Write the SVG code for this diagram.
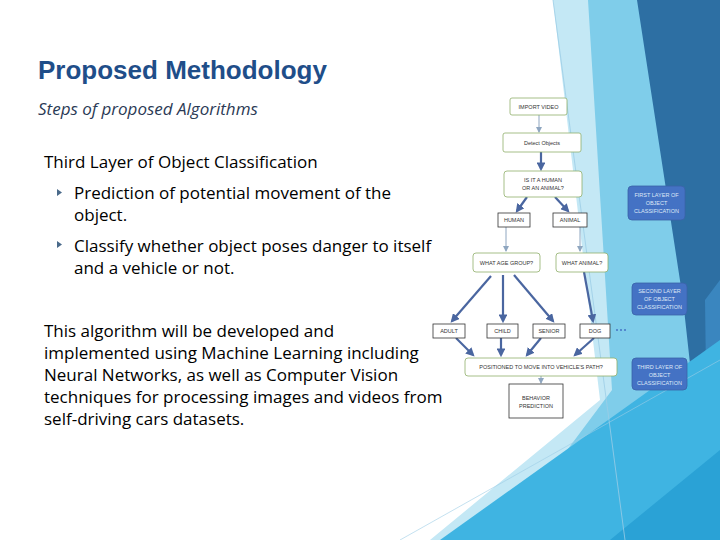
<svg xmlns="http://www.w3.org/2000/svg" width="720" height="540" viewBox="0 0 720 540">
<defs>
<style>
.t{font-family:"Open Sans","Liberation Sans",Arial,sans-serif;fill:#000}
.fc{font-family:"Liberation Sans",Arial,sans-serif;font-size:5.5px;fill:#333;text-anchor:middle}
.sd{font-family:"Liberation Sans",Arial,sans-serif;font-size:5.5px;fill:#dfe8f7;text-anchor:middle}
.g{fill:#fff;stroke:#8fae6a;stroke-width:0.8}
.k{fill:#fff;stroke:#333;stroke-width:0.8}
.s{fill:#4472c4;stroke:#3a62a8;stroke-width:0.8}
.thin{stroke:#8fa6c0;stroke-width:1;fill:none;marker-end:url(#ah)}
.thick{stroke:#4a66a0;stroke-width:2.2;fill:none;marker-end:url(#ah2)}
</style>
<marker id="ah" markerWidth="6" markerHeight="6" refX="5" refY="3" orient="auto"><path d="M0,0L6,3L0,6z" fill="#8fa6c0"/></marker>
<marker id="ah2" markerWidth="4" markerHeight="4" refX="3" refY="2" orient="auto"><path d="M0,0L4,2L0,4z" fill="#4a66a0"/></marker>
</defs>
<rect width="720" height="540" fill="#fff"/>
<g id="background">
<polygon points="553,0 720,0 720,540 430,540 600,400" fill="#c4e8f5"/>
<polygon points="588,0 720,0 720,540 500,540 612,390" fill="#7fcdea"/>
<polygon points="637,0 720,0 720,540 705,500 683,300" fill="#2d6fa3"/>
<polygon points="705,300 720,280 720,540 708,520" fill="#3a86bf"/>
<polygon points="440,540 720,340 720,540" fill="#3fb4e2"/>
<polygon points="610,540 720,450 720,540" fill="#2aa2d6"/>
<line x1="553" y1="0" x2="625" y2="540" stroke="#9ccde6" stroke-width="0.8"/>
<line x1="400" y1="540" x2="720" y2="360" stroke="#9ccde6" stroke-width="0.6"/>
</g>
<g id="title">
<text class="t" x="38" y="79" font-size="26" font-weight="bold" style="fill:#1f4e89;font-family:'Liberation Sans',Arial,sans-serif">Proposed Methodology</text>
<text class="t" x="38" y="115" font-size="17" font-style="italic" style="fill:#2b3a55">Steps of proposed Algorithms</text>
</g>
<g id="body" font-size="17">
<text class="t" x="44" y="168">Third Layer of Object Classification</text>
<path d="M57,189l5,3.5l-5,3.5z M57,241l5,3.5l-5,3.5z" fill="#4a6a8a"/>
<text class="t" x="74" y="199">Prediction of potential movement of the</text>
<text class="t" x="74" y="221">object.</text>
<text class="t" x="74" y="252">Classify whether object poses danger to itself</text>
<text class="t" x="74" y="274">and a vehicle or not.</text>
<text class="t" x="44" y="337">This algorithm will be developed and</text>
<text class="t" x="44" y="359">implemented using Machine Learning including</text>
<text class="t" x="44" y="381">Neural Networks, as well as Computer Vision</text>
<text class="t" x="44" y="403">techniques for processing images and videos from</text>
<text class="t" x="44" y="425">self-driving cars datasets.</text>
</g>
<g id="connectors">
<line class="thin" x1="539" y1="115" x2="539" y2="132"/>
<line class="thick" x1="541" y1="152" x2="541" y2="169"/>
<line class="thick" x1="527" y1="197" x2="517" y2="211"/>
<line class="thick" x1="555" y1="197" x2="568" y2="211"/>
<line class="thin" x1="506" y1="227" x2="506" y2="251"/>
<line class="thin" x1="580" y1="227" x2="580" y2="251"/>
<line class="thick" x1="491" y1="276" x2="452" y2="321"/>
<line class="thick" x1="503" y1="275" x2="503" y2="321"/>
<line class="thick" x1="514" y1="275" x2="553" y2="321"/>
<line class="thick" x1="584" y1="272" x2="593" y2="321"/>
<line class="thick" x1="456" y1="338" x2="473" y2="355"/>
<line class="thick" x1="501" y1="338" x2="501" y2="355"/>
<line class="thick" x1="541" y1="338" x2="527" y2="355"/>
<line class="thick" x1="594" y1="338" x2="575" y2="355"/>
<line class="thin" x1="541" y1="376" x2="541" y2="383"/>
</g>
<g id="n-import"><rect class="g" x="510" y="98" width="57" height="17" rx="2"/><text class="fc" x="538.5" y="109">IMPORT VIDEO</text></g>
<g id="n-detect"><rect class="g" x="503" y="133" width="78" height="19" rx="2"/><text class="fc" x="542" y="145">Detect Objects</text></g>
<g id="n-is"><rect class="g" x="504" y="171" width="78" height="26" rx="3"/><text class="fc" x="543" y="182">IS IT A HUMAN</text><text class="fc" x="543" y="190">OR AN ANIMAL?</text></g>
<g id="n-human"><rect class="k" x="498" y="213" width="32" height="14"/><text class="fc" x="514" y="222">HUMAN</text></g>
<g id="n-animal"><rect class="k" x="553" y="213" width="34" height="14"/><text class="fc" x="570" y="222">ANIMAL</text></g>
<g id="n-age"><rect class="g" x="473" y="253" width="67" height="19" rx="3"/><text class="fc" x="506.5" y="265">WHAT AGE GROUP?</text></g>
<g id="n-whatanimal"><rect class="g" x="556" y="253" width="52" height="19" rx="3"/><text class="fc" x="582" y="265">WHAT ANIMAL?</text></g>
<g id="n-adult"><rect class="k" x="433" y="324" width="32" height="14"/><text class="fc" x="449" y="333">ADULT</text></g>
<g id="n-child"><rect class="k" x="487" y="324" width="31" height="14"/><text class="fc" x="502.5" y="333">CHILD</text></g>
<g id="n-senior"><rect class="k" x="533" y="324" width="32" height="14"/><text class="fc" x="549" y="333">SENIOR</text></g>
<g id="n-dog"><rect class="k" x="580" y="324" width="30" height="14"/><text class="fc" x="595" y="333">DOG</text></g>
<g id="n-dots"><circle cx="617" cy="330" r="1" fill="#4472c4"/><circle cx="621" cy="330" r="1" fill="#4472c4"/><circle cx="625" cy="330" r="1" fill="#4472c4"/></g>
<g id="n-positioned"><rect class="g" x="465" y="358" width="152" height="18" rx="3"/><text class="fc" x="541" y="369">POSITIONED TO MOVE INTO VEHICLE'S PATH?</text></g>
<g id="n-behavior"><rect class="k" x="509" y="384" width="54" height="34"/><text class="fc" x="536" y="400">BEHAVIOR</text><text class="fc" x="536" y="408">PREDICTION</text></g>
<g id="n-first"><rect class="s" x="628" y="186" width="57" height="34" rx="4"/><text class="sd" x="656.5" y="197">FIRST LAYER OF</text><text class="sd" x="656.5" y="205">OBJECT</text><text class="sd" x="656.5" y="213">CLASSIFICATION</text></g>
<g id="n-second"><rect class="s" x="632" y="283" width="55" height="32" rx="4"/><text class="sd" x="659.5" y="293">SECOND LAYER</text><text class="sd" x="659.5" y="301">OF OBJECT</text><text class="sd" x="659.5" y="309">CLASSIFICATION</text></g>
<g id="n-third"><rect class="s" x="632" y="358" width="55" height="32" rx="4"/><text class="sd" x="659.5" y="369">THIRD LAYER OF</text><text class="sd" x="659.5" y="377">OBJECT</text><text class="sd" x="659.5" y="385">CLASSIFICATION</text></g>
</svg>
